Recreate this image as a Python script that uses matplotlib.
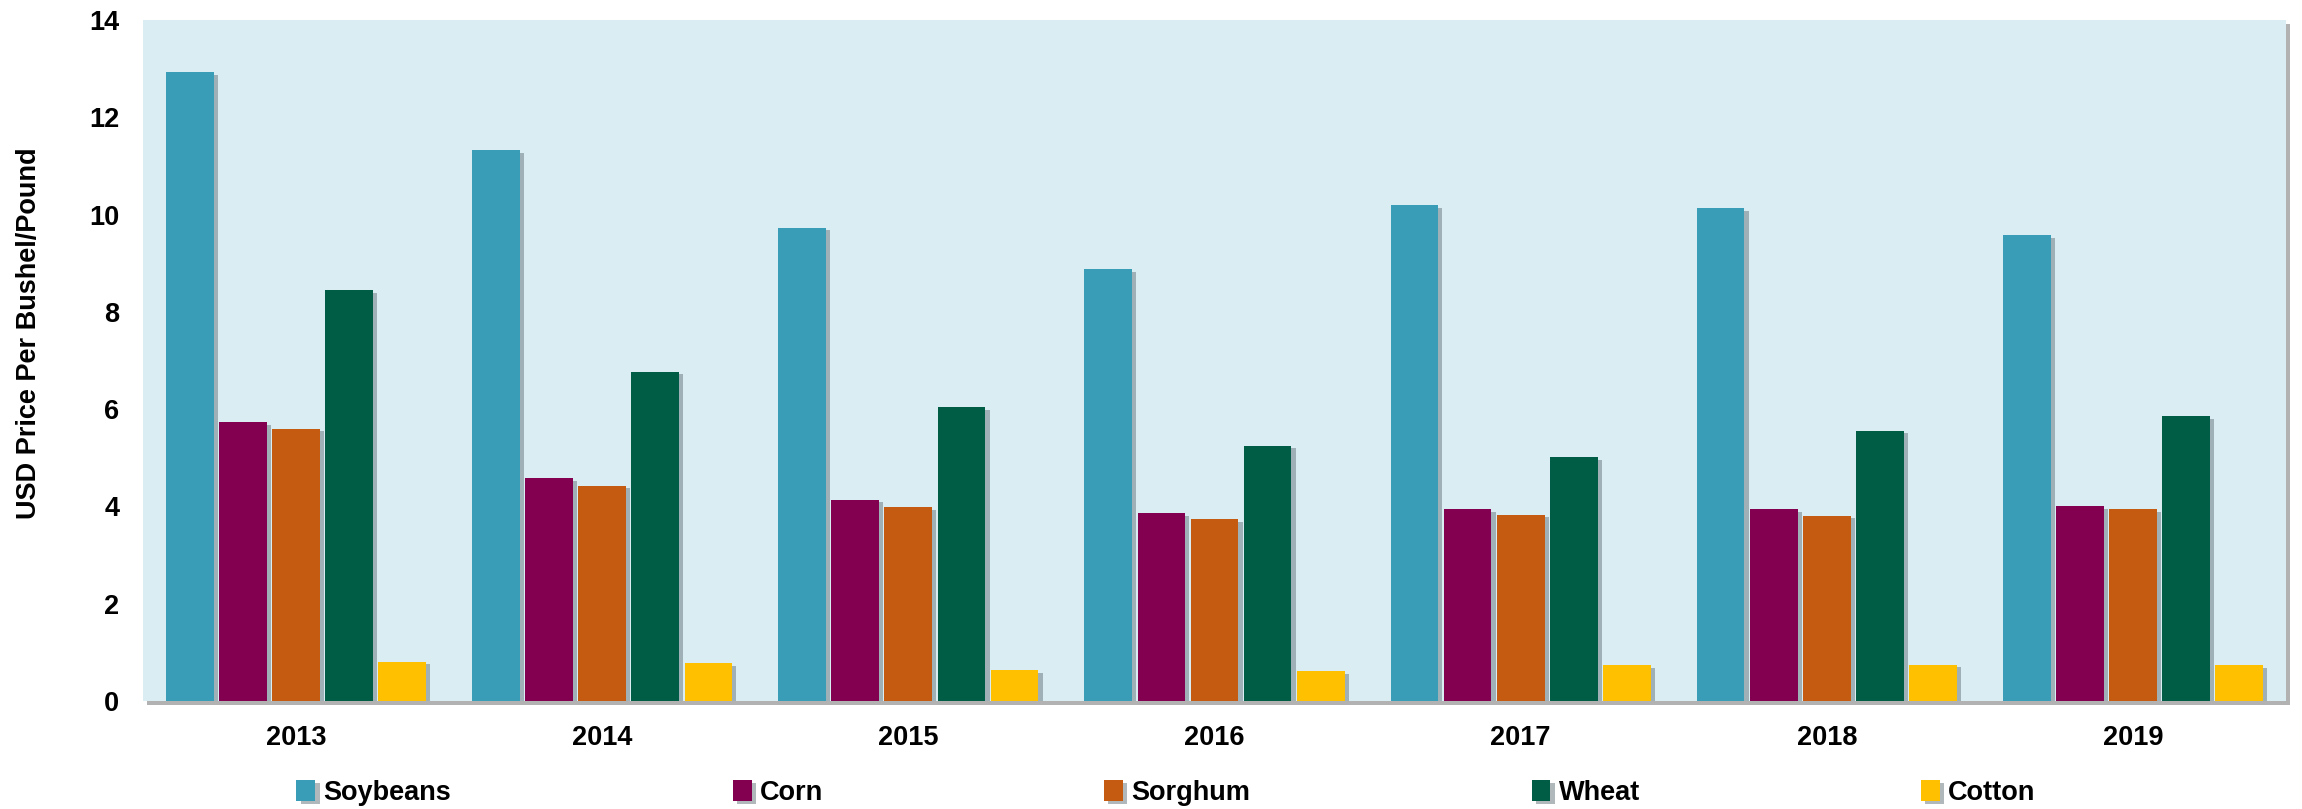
import numpy as np
import matplotlib.pyplot as plt
import matplotlib.patheffects as pe

years = ['2013', '2014', '2015', '2016', '2017', '2018', '2019']
crops = ['Soybeans', 'Corn', 'Sorghum', 'Wheat', 'Cotton']

soybeans = [12.93, 11.32, 9.73, 8.88, 10.20, 10.13, 9.58]
corn = [5.73, 4.59, 4.14, 3.87, 3.95, 3.94, 4.01]
sorghum = [5.60, 4.43, 3.99, 3.74, 3.83, 3.81, 3.95]
wheat = [8.44, 6.77, 6.04, 5.25, 5.02, 5.56, 5.86]
cotton = [0.81, 0.78, 0.63, 0.61, 0.74, 0.75, 0.74]

colors = ['#3A9DB8', '#830051', '#C55A11', '#005D45', '#FFC000']

font = ['Liberation Sans', 'DejaVu Sans']

fig = plt.figure(figsize=(23.02, 8.09), dpi=100)
ax = fig.add_axes([143 / 2302, 1 - 701 / 809, (2286 - 143) / 2302, (701 - 20) / 809])
ax.set_facecolor('#DAEDF3')
ax.patch.set_path_effects([pe.SimplePatchShadow(offset=(3, -3), shadow_rgbFace='#808080', alpha=0.6),
                           pe.Normal()])

x = np.arange(len(years))
pitch = 0.1735
width = 0.156
series = [soybeans, corn, sorghum, wheat, cotton]
for i, (vals, name, c) in enumerate(zip(series, crops, colors)):
    bars = ax.bar(x + (i - 2) * pitch, vals, width, color=c, label=name, zorder=3)
    for b in bars:
        b.set_path_effects([pe.SimplePatchShadow(offset=(3, -2), shadow_rgbFace='#6f7f86', alpha=0.55),
                            pe.Normal()])

ax.set_xlim(-0.5, 6.5)
ax.set_ylim(0, 14)
ax.set_yticks(np.arange(0, 15, 2))
ax.set_xticks(x)
ax.set_xticklabels(years)
for s in ax.spines.values():
    s.set_visible(False)
ax.tick_params(axis='both', length=0, labelsize=19.5)
ax.tick_params(axis='x', pad=17)
ax.tick_params(axis='y', pad=17)
for lab in ax.get_xticklabels() + ax.get_yticklabels():
    lab.set_family(font)
    lab.set_fontweight('bold')

ax.set_ylabel('USD Price Per Bushel/Pound', fontsize=19.5, fontweight='bold', family=font)
ax.yaxis.set_label_coords(-0.047, 0.54)

leg = fig.legend(loc='center', ncol=5, mode='expand',
                 bbox_to_anchor=(272 / 2302, 1 - 793 / 809, (2060 - 272) / 2302, 0),
                 frameon=False, handlelength=0.7, handleheight=0.8, handletextpad=0.3,
                 prop={'family': font, 'weight': 'bold', 'size': 19.5})

plt.savefig('out.png', dpi=100)
